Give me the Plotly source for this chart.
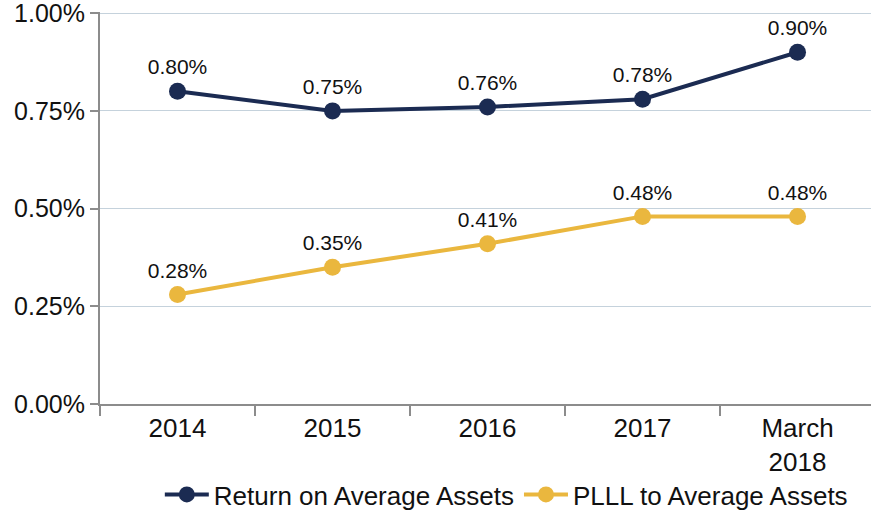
import plotly.graph_objects as go

periods = ["2014", "2015", "2016", "2017", "March<br>2018"]
roaa = [0.80, 0.75, 0.76, 0.78, 0.90]
plll = [0.28, 0.35, 0.41, 0.48, 0.48]

navy = "#1b2b52"
gold = "#eab73e"
font = "Liberation Sans, Arial, Helvetica"

fig = go.Figure()
fig.add_trace(go.Scatter(
    x=periods, y=roaa, name="Return on Average Assets",
    mode="lines+markers+text",
    line=dict(color=navy, width=4), marker=dict(color=navy, size=17),
    text=[f"{v:.2f}%" for v in roaa], textposition="top center",
    textfont=dict(family=font, size=21, color="#111"),
))
fig.add_trace(go.Scatter(
    x=periods, y=plll, name="PLLL to Average Assets",
    mode="lines+markers+text",
    line=dict(color=gold, width=4), marker=dict(color=gold, size=17),
    text=[f"{v:.2f}%" for v in plll], textposition="top center",
    textfont=dict(family=font, size=21, color="#111"),
))

fig.update_layout(
    width=871, height=518,
    margin=dict(l=100, r=0, t=12, b=108),
    paper_bgcolor="white", plot_bgcolor="white",
    showlegend=True,
    legend=dict(orientation="h", xanchor="center", x=0.527, yanchor="middle", y=-0.232,
                bgcolor="rgba(0,0,0,0)",
                font=dict(family=font, size=26, color="#111"),
                itemwidth=44, tracegroupgap=0),
)
fig.update_xaxes(
    type="category", range=[-0.5, 4.474],
    showline=True, linecolor="#8c8c8c", linewidth=2,
    ticks="outside", tickson="boundaries", ticklen=10, tickcolor="#8c8c8c", tickwidth=2,
    showgrid=False,
    tickfont=dict(family=font, size=26, color="#111"),
)
fig.update_yaxes(
    range=[0, 1.003], tickvals=[0, 0.25, 0.5, 0.75, 1.0],
    ticktext=["0.00%", "0.25%", "0.50%", "0.75%", "1.00%"],
    showline=True, linecolor="#8c8c8c", linewidth=2,
    ticks="outside", ticklen=8, tickcolor="#8c8c8c", tickwidth=2,
    showgrid=True, gridcolor="#c5d2dc", gridwidth=1, zeroline=False,
    ticklabeloverflow="allow",
    tickfont=dict(family=font, size=25, color="#111"),
)

# drop the page's default body margin so the figure sits at the window corner
fig.write_html("out.html", config={"displayModeBar": False},
               post_script="document.body.style.margin='0';")
